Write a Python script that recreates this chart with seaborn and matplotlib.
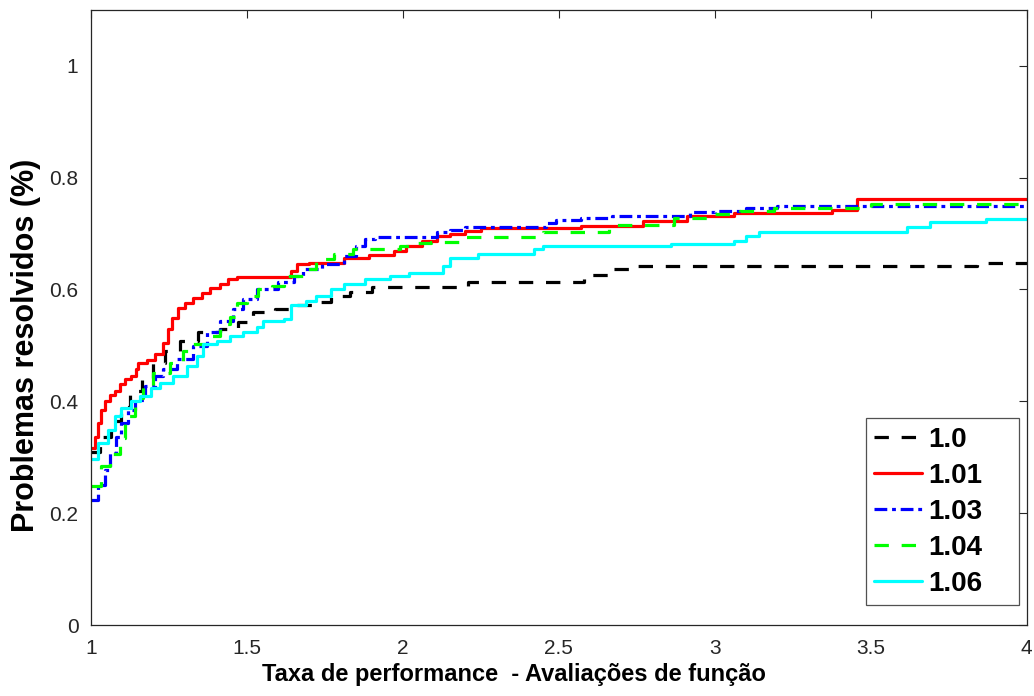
import matplotlib
matplotlib.use("Agg")
import matplotlib.pyplot as plt
import pandas as pd
import seaborn as sns

# step breakpoints (x = taxa de performance, y = fraction solved)
x_10 = [1.0, 1.028, 1.065, 1.095, 1.124, 1.136, 1.162, 1.2, 1.237, 1.285, 1.344, 1.413, 1.472, 1.52,
        1.57, 1.59, 1.64, 1.72, 1.77, 1.83, 1.90, 2.21, 2.58, 2.67, 2.73, 3.84, 4.0]
y_10 = [0.31, 0.337, 0.364, 0.39, 0.415, 0.418, 0.442, 0.469, 0.490, 0.508, 0.523, 0.529, 0.541, 0.559,
        0.562, 0.565, 0.573, 0.577, 0.588, 0.595, 0.604, 0.613, 0.625, 0.636, 0.641, 0.647, 0.647]

x_101 = [1.0, 1.012, 1.022, 1.033, 1.044, 1.06, 1.076, 1.092, 1.108, 1.129, 1.145, 1.152, 1.178, 1.205,
         1.232, 1.248, 1.259, 1.28, 1.301, 1.328, 1.355, 1.381, 1.413, 1.44, 1.467, 1.64, 1.66, 1.70,
         1.81, 1.89, 1.97, 2.01, 2.06, 2.11, 2.15, 2.20, 2.25, 2.57, 2.77, 2.91, 3.06, 3.375, 3.455, 4.0]
y_101 = [0.317, 0.337, 0.362, 0.385, 0.400, 0.412, 0.418, 0.430, 0.439, 0.445, 0.457, 0.469, 0.474, 0.484,
         0.505, 0.529, 0.549, 0.567, 0.576, 0.585, 0.594, 0.603, 0.609, 0.618, 0.622, 0.633, 0.645, 0.648,
         0.657, 0.662, 0.669, 0.678, 0.687, 0.695, 0.699, 0.705, 0.709, 0.714, 0.722, 0.732, 0.737, 0.742, 0.762, 0.762]

x_103 = [1.0, 1.022, 1.044, 1.06, 1.081, 1.097, 1.119, 1.14, 1.172, 1.204, 1.232, 1.275, 1.328, 1.371,
         1.413, 1.456, 1.488, 1.531, 1.60, 1.65, 1.68, 1.74, 1.81, 1.85, 1.88, 1.91, 2.11, 2.15, 2.20,
         2.46, 2.49, 2.57, 2.67, 2.92, 3.0, 3.10, 3.20, 4.0]
y_103 = [0.224, 0.251, 0.278, 0.308, 0.337, 0.361, 0.385, 0.403, 0.427, 0.445, 0.457, 0.475, 0.499, 0.523,
         0.544, 0.565, 0.582, 0.600, 0.613, 0.624, 0.636, 0.645, 0.660, 0.678, 0.690, 0.694, 0.702, 0.706, 0.711,
         0.718, 0.724, 0.727, 0.732, 0.738, 0.741, 0.745, 0.749, 0.749]

x_104 = [1.0, 1.033, 1.06, 1.092, 1.108, 1.14, 1.168, 1.2, 1.253, 1.296, 1.328, 1.371, 1.413, 1.446,
         1.467, 1.499, 1.536, 1.58, 1.62, 1.68, 1.72, 1.78, 1.84, 1.99, 2.02, 2.09, 2.20, 2.45, 2.66,
         2.87, 2.99, 3.08, 3.19, 3.5, 4.0]
y_104 = [0.248, 0.284, 0.305, 0.335, 0.373, 0.406, 0.427, 0.451, 0.469, 0.490, 0.502, 0.517, 0.538, 0.550,
         0.576, 0.588, 0.600, 0.606, 0.624, 0.636, 0.654, 0.663, 0.672, 0.678, 0.683, 0.685, 0.693, 0.702, 0.715,
         0.727, 0.735, 0.741, 0.745, 0.752, 0.752]

x_106 = [1.0, 1.022, 1.054, 1.076, 1.097, 1.129, 1.157, 1.193, 1.221, 1.264, 1.307, 1.339, 1.36, 1.403,
         1.446, 1.488, 1.531, 1.55, 1.62, 1.64, 1.69, 1.72, 1.77, 1.81, 1.88, 1.96, 2.02, 2.13, 2.15,
         2.24, 2.42, 2.45, 2.86, 3.06, 3.10, 3.14, 3.615, 3.69, 3.87, 4.0]
y_106 = [0.296, 0.326, 0.349, 0.373, 0.388, 0.400, 0.410, 0.424, 0.432, 0.445, 0.463, 0.481, 0.502, 0.508,
         0.517, 0.523, 0.532, 0.544, 0.547, 0.573, 0.579, 0.588, 0.600, 0.609, 0.618, 0.624, 0.630, 0.642, 0.657,
         0.663, 0.672, 0.677, 0.681, 0.687, 0.695, 0.702, 0.712, 0.720, 0.725, 0.725]

labels = ["1.0", "1.01", "1.03", "1.04", "1.06"]
xticks = [1, 1.5, 2, 2.5, 3, 3.5, 4]
xtick_labels = ["1", "1.5", "2", "2.5", "3", "3.5", "4"]
yticks = [0, 0.2, 0.4, 0.6, 0.8, 1]
ytick_labels = ["0", "0.2", "0.4", "0.6", "0.8", "1"]

series = [
    (labels[0], x_10, y_10, "black", (0, (4.5, 4))),
    (labels[1], x_101, y_101, "red", "-"),
    (labels[2], x_103, y_103, "blue", (0, (4, 1.5, 1.2, 1.5))),
    (labels[3], x_104, y_104, "#00ff00", (0, (4.5, 4))),
    (labels[4], x_106, y_106, "cyan", "-"),
]

sns.set_style("white")
plt.rcParams["font.family"] = ["Liberation Sans", "DejaVu Sans"]
plt.rcParams["text.color"] = "black"
plt.rcParams["axes.labelcolor"] = "black"

fig = plt.figure(figsize=(10.34, 6.96), dpi=100)
ax = fig.add_axes([0.088, 0.102, 0.905, 0.884])

for name, xs, ys, col, ls in series:
    df = pd.DataFrame({"x": xs, "y": ys})
    sns.lineplot(data=df, x="x", y="y", ax=ax, color=col, linestyle=ls,
                 linewidth=2.3, drawstyle="steps-post", label=name, estimator=None)

ax.set_xlim(1, 4)
ax.set_ylim(0, 1.1)
ax.set_xticks(xticks)
ax.set_xticklabels(xtick_labels)
ax.set_yticks(yticks)
ax.set_yticklabels(ytick_labels)
ax.tick_params(direction="in", length=6, width=0.8, colors="#262626",
               labelsize=15, top=True, right=True)
ax.tick_params(axis="x", pad=10)
ax.tick_params(axis="y", pad=9)
for sp in ax.spines.values():
    sp.set_color("#262626")
    sp.set_linewidth(0.9)

ax.set_xlabel("Taxa de performance  - Avaliações de função", fontsize=17, fontweight="bold")
ax.set_ylabel("Problemas resolvidos (%)", fontsize=22, fontweight="bold")
ax.xaxis.set_label_coords(0.452, -0.062)
ax.yaxis.set_label_coords(-0.053, 0.454)

# legend box spans x 866-1019, y 414-605 px in the reference
leg = ax.legend(loc="lower left", bbox_to_anchor=(866 / 1034, 91 / 696, 153 / 1034, 0.2),
                bbox_transform=fig.transFigure, mode="expand",
                prop={"weight": "bold", "size": 20}, frameon=True, fancybox=False,
                handlelength=1.7, handletextpad=0.25, borderpad=0.3, labelspacing=0.36,
                borderaxespad=0)
leg.get_frame().set_edgecolor("#262626")
leg.get_frame().set_linewidth(0.9)
for t in leg.get_texts():
    t.set_color("black")

fig.savefig("out.png", dpi=100)
